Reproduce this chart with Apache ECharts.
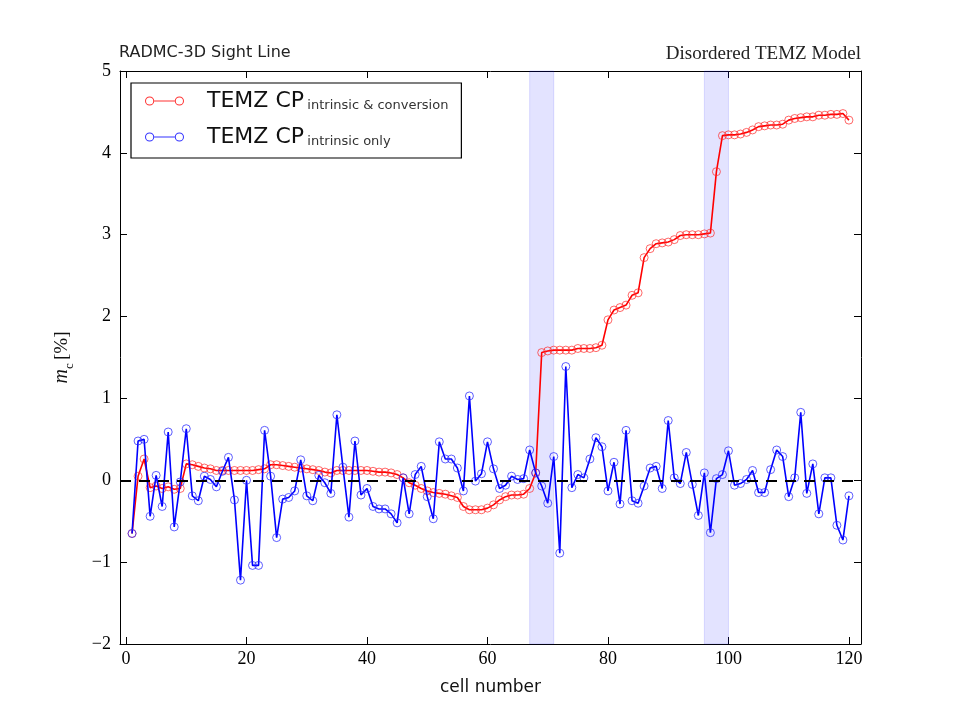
<!DOCTYPE html>
<html>
<head>
<meta charset="utf-8">
<script src="https://cdn.jsdelivr.net/npm/echarts@6/dist/echarts.min.js"></script>
<style>html,body{margin:0;padding:0;background:#fff;}#c{width:955px;height:716px;}</style>
</head>
<body>
<div id="c"></div>
<script>
// ---- data ----
const cellNumbers = Array.from({length: 120}, (_, i) => i + 1);
const cpIntrinsicConversion = [
 -0.65, 0.05, 0.26, -0.09, -0.07, -0.10, -0.08, -0.11, -0.10, 0.20,
  0.19, 0.17, 0.15, 0.14, 0.12, 0.12, 0.12, 0.12, 0.12, 0.12,
  0.12, 0.13, 0.14, 0.19, 0.19, 0.18, 0.17, 0.16, 0.15, 0.14,
  0.13, 0.12, 0.10, 0.09, 0.12, 0.12, 0.12, 0.12, 0.12, 0.12,
  0.11, 0.10, 0.10, 0.09, 0.07, 0.03, -0.03, -0.06, -0.10, -0.13,
 -0.15, -0.16, -0.17, -0.19, -0.21, -0.32, -0.36, -0.36, -0.36, -0.34,
 -0.30, -0.24, -0.20, -0.18, -0.18, -0.17, -0.10, 0.09, 1.56, 1.58,
  1.59, 1.59, 1.59, 1.59, 1.61, 1.61, 1.61, 1.62, 1.65, 1.96,
  2.08, 2.11, 2.14, 2.26, 2.29, 2.72, 2.83, 2.89, 2.90, 2.91,
  2.94, 2.99, 3.00, 3.00, 3.00, 3.01, 3.02, 3.77, 4.21, 4.22,
  4.22, 4.23, 4.25, 4.28, 4.32, 4.33, 4.34, 4.34, 4.35, 4.40,
  4.42, 4.43, 4.44, 4.44, 4.46, 4.46, 4.47, 4.47, 4.48, 4.40
];
const cpIntrinsicOnly = [
 -0.65, 0.48, 0.50, -0.44, 0.06, -0.32, 0.59, -0.57, -0.02, 0.63,
 -0.19, -0.25, 0.05, 0.01, -0.08, 0.11, 0.28, -0.24, -1.22, 0.00,
 -1.04, -1.04, 0.61, 0.05, -0.70, -0.23, -0.21, -0.13, 0.25, -0.19,
 -0.25, 0.06, -0.03, -0.16, 0.80, 0.16, -0.45, 0.48, -0.18, -0.10,
 -0.32, -0.35, -0.35, -0.41, -0.52, 0.03, -0.41, 0.07, 0.17, -0.20,
 -0.47, 0.47, 0.26, 0.26, 0.15, -0.13, 1.03, -0.01, 0.08, 0.47,
  0.14, -0.10, -0.06, 0.05, 0.01, 0.02, 0.37, 0.09, -0.07, -0.28,
  0.29, -0.89, 1.39, -0.09, 0.07, 0.03, 0.26, 0.52, 0.41, -0.13,
  0.22, -0.29, 0.61, -0.25, -0.28, -0.07, 0.15, 0.17, -0.10, 0.73,
  0.03, -0.04, 0.34, -0.05, -0.43, 0.09, -0.64, 0.02, 0.07, 0.36,
 -0.06, -0.04, 0.01, 0.12, -0.15, -0.15, 0.13, 0.37, 0.29, -0.20,
  0.03, 0.83, -0.16, 0.20, -0.41, 0.03, 0.03, -0.55, -0.73, -0.19
];
const shadedSpans = [[67, 71], [96, 100]];
const xTicks = [0, 20, 40, 60, 80, 100, 120];
const yTicks = [-2, -1, 0, 1, 2, 3, 4, 5];
const seriesNames = ['TEMZ CP intrinsic & conversion', 'TEMZ CP intrinsic only'];

// ---- chart ----
const chart = echarts.init(document.getElementById('c'));
const minus = v => String(v).replace('-', '\u2212');
const tickFont = {fontFamily: 'Liberation Serif', fontSize: 18, color: '#000'};
const ring = (cx) => `M${cx-4.5},5 A4.5,4.5 0 1,0 ${cx+4.5},5 A4.5,4.5 0 1,0 ${cx-4.5},5 Z M${cx-3.5},5 A3.5,3.5 0 1,1 ${cx+3.5},5 A3.5,3.5 0 1,1 ${cx-3.5},5 Z`;
const legendIcon = 'path://' + ring(5) + ' M9.5,4.4 L29.5,4.4 L29.5,5.6 L9.5,5.6 Z ' + ring(34);

const axisCommon = {
  axisLine: {show: true, onZero: false, lineStyle: {color: '#000', width: 1}},
  splitLine: {show: false}
};

chart.setOption({
  animation: false,
  backgroundColor: '#fff',
  title: [
    {text: 'RADMC-3D Sight Line', left: 119, top: 45, padding: 0,
     textStyle: {fontFamily: 'DejaVu Sans', fontSize: 16, fontWeight: 'normal', color: '#222'}},
    {text: 'Disordered TEMZ Model', right: 94, top: 45, padding: 0,
     textStyle: {fontFamily: 'Liberation Serif', fontSize: 19, fontWeight: 'normal', color: '#222'}}
  ],
  grid: {left: 120, right: 94, top: 71, bottom: 72, containLabel: false},
  legend: {
    left: 131, top: 83, orient: 'vertical',
    padding: [7, 13, 8, 14], itemGap: 12,
    borderColor: '#000', borderWidth: 1.2, borderRadius: 0,
    icon: legendIcon, itemWidth: 39, itemHeight: 10,
    data: [
      {name: seriesNames[0], itemStyle: {color: '#ff3333', borderWidth: 0}},
      {name: seriesNames[1], itemStyle: {color: '#3333ff', borderWidth: 0}}
    ],
    formatter: n => n.replace(/^TEMZ CP (.*)$/, '{a|TEMZ CP} {b|$1}'),
    textStyle: {
      rich: {
        a: {fontFamily: 'DejaVu Sans', fontSize: 22, color: '#111', padding: [0, 0, 0, 18], lineHeight: 26},
        b: {fontFamily: 'DejaVu Sans', fontSize: 13, color: '#333', verticalAlign: 'bottom', padding: [0, 0, 2, 0], lineHeight: 26}
      }
    }
  },
  xAxis: [
    Object.assign({
      type: 'value', min: -1, max: 122, position: 'bottom',
      name: 'cell number', nameLocation: 'middle', nameGap: 35,
      nameTextStyle: {fontFamily: 'DejaVu Sans', fontSize: 17, color: '#111'},
      axisTick: {show: true, inside: true, length: 7, customValues: xTicks, lineStyle: {color: '#000'}},
      axisLabel: {show: true, margin: 6, customValues: xTicks, formatter: minus, ...tickFont}
    }, axisCommon),
    Object.assign({
      type: 'value', min: -1, max: 122, position: 'top',
      axisTick: {show: true, inside: true, length: 7, customValues: xTicks, lineStyle: {color: '#000'}},
      axisLabel: {show: false}
    }, axisCommon)
  ],
  yAxis: [
    Object.assign({
      type: 'value', min: -2, max: 5, interval: 1, position: 'left',
      name: '{m|m}{c|c} {p|[%]}', nameLocation: 'middle', nameGap: 48,
      nameTextStyle: {
        rich: {
          m: {fontFamily: 'Liberation Serif', fontStyle: 'italic', fontSize: 20, color: '#111'},
          c: {fontFamily: 'Liberation Serif', fontSize: 13, color: '#111', verticalAlign: 'bottom', padding: [0, 0, -4, 0]},
          p: {fontFamily: 'Liberation Serif', fontSize: 19, color: '#111'}
        }
      },
      axisTick: {show: true, inside: true, length: 7, lineStyle: {color: '#000'}},
      axisLabel: {show: true, margin: 9, formatter: minus, ...tickFont}
    }, axisCommon),
    Object.assign({
      type: 'value', min: -2, max: 5, interval: 1, position: 'right',
      axisTick: {show: true, inside: true, length: 7, lineStyle: {color: '#000'}},
      axisLabel: {show: false}
    }, axisCommon)
  ],
  series: [
    {
      name: seriesNames[0], type: 'line', xAxisIndex: 0, yAxisIndex: 0,
      data: cellNumbers.map((c, i) => [c, cpIntrinsicConversion[i]]),
      symbol: 'circle', symbolSize: 8, showAllSymbol: true,
      lineStyle: {color: '#ff0000', width: 1.6},
      itemStyle: {color: 'rgba(255,255,255,0)', borderColor: 'rgba(255,40,40,0.7)', borderWidth: 1},
      markArea: {
        silent: true,
        itemStyle: {color: 'rgba(0,0,255,0.11)', borderColor: 'rgba(0,0,255,0.12)', borderWidth: 1},
        data: shadedSpans.map(s => [{xAxis: s[0]}, {xAxis: s[1]}])
      },
      z: 3
    },
    {
      name: seriesNames[1], type: 'line', xAxisIndex: 0, yAxisIndex: 0,
      data: cellNumbers.map((c, i) => [c, cpIntrinsicOnly[i]]),
      symbol: 'circle', symbolSize: 8, showAllSymbol: true,
      lineStyle: {color: '#0000ff', width: 1.6},
      itemStyle: {color: 'rgba(255,255,255,0)', borderColor: 'rgba(40,40,255,0.75)', borderWidth: 1},
      markLine: {
        silent: true, symbol: 'none', label: {show: false},
        lineStyle: {color: '#000', width: 2, type: [11, 8]},
        data: [{yAxis: 0}]
      },
      z: 4
    }
  ]
});
</script>
</body>
</html>
